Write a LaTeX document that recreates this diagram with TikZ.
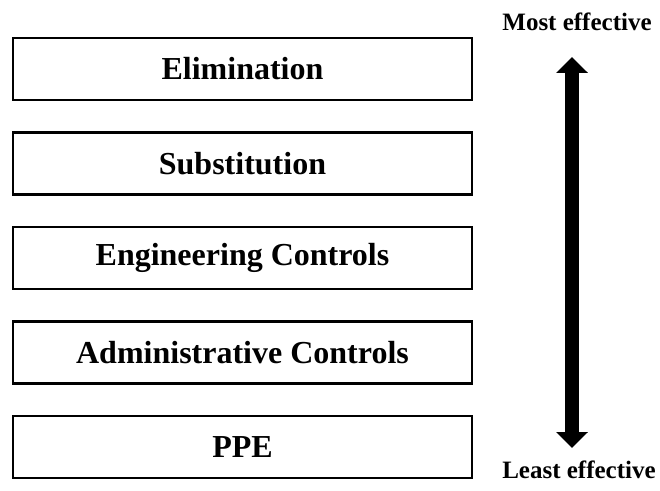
\documentclass[tikz,border=0pt]{standalone}
\usepackage{fontspec}
\setmainfont{Liberation Serif}
\usetikzlibrary{positioning,arrows.meta}

\begin{document}
\begin{tikzpicture}[x=1pt, y=1pt, node distance=30pt,
    level/.style={rectangle, draw, line width=2.5pt, minimum width=459pt, minimum height=62pt, inner sep=0pt, font=\fontsize{32}{38}\selectfont\bfseries},
    note/.style={font=\fontsize{25}{30}\selectfont\bfseries, inner sep=0pt},
    bigarrow/.style={line width=14pt, {Triangle[width=31pt,length=16pt]}-{Triangle[width=31pt,length=16pt]}}]

    \useasboundingbox (0,0) rectangle (660,490);

    \node[level] (elim) at (242.5,421) {Elimination};
    \node[level, below=of elim] (subst) {Substitution};
    \node[level, below=of subst] (eng) {Engineering Controls};
    \node[level, below=of eng] (admin) {Administrative Controls};
    \node[level, below=of admin] (ppe) {PPE};

    % effectiveness scale
    \node[note] (most) at (577,468) {Most effective};
    \node[note] (least) at (579,20) {Least effective};
    \coordinate (top) at (572,433);
    \coordinate (bot) at (572,42);
    \draw[bigarrow] (top) -- (bot);

\end{tikzpicture}
\end{document}
